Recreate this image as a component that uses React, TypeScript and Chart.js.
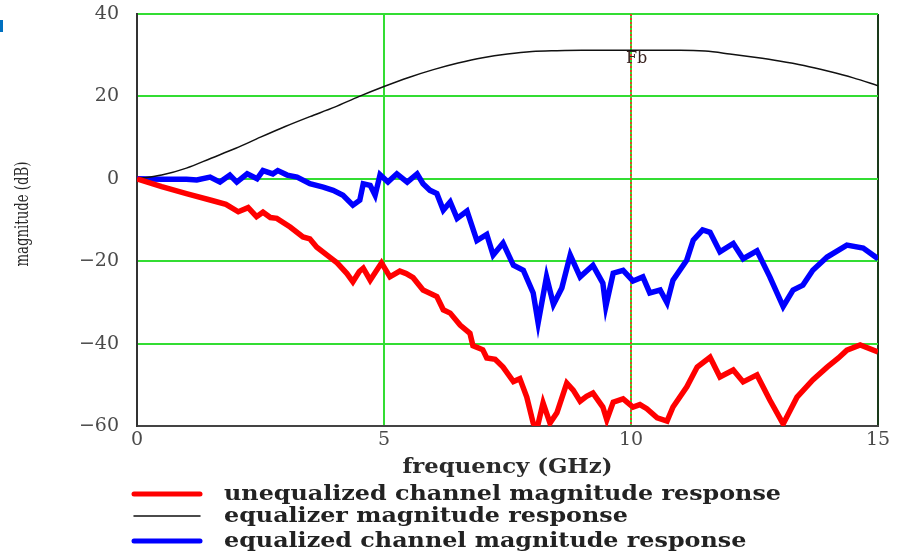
import React, { useEffect, useRef } from "react";
import { Chart, registerables } from "chart.js";

Chart.register(...registerables);

// ---- data ----
const xTicks = [0, 5, 10, 15];
const yTicks = [40, 20, 0, -20, -40, -60];
const fbFreq = 10;
const markerLabel = "Fb";
const xTitle = "frequency (GHz)";
const yTitle = "magnitude (dB)";
const seriesLabels = [
  "unequalized channel magnitude response",
  "equalizer magnitude response",
  "equalized channel magnitude response",
];

const equalizerFreq = [0, 0.5, 1, 1.5, 2, 2.5, 3, 3.5, 4, 4.5, 5, 5.5, 6, 6.5, 7, 7.5, 8, 8.5, 9, 9.5, 10, 10.5, 11, 11.5, 12, 12.5, 13, 13.5, 14, 14.5, 15];
const equalizerDb = [0, 0.9, 2.6, 5.0, 7.4, 10.1, 12.7, 15.1, 17.4, 20.0, 22.4, 24.6, 26.5, 28.1, 29.4, 30.3, 30.9, 31.1, 31.2, 31.2, 31.2, 31.2, 31.2, 31.0, 30.3, 29.5, 28.6, 27.5, 26.1, 24.5, 22.6];

const unequalizedFreq = [0, 0.5, 1.0, 1.5, 1.8, 2.05, 2.25, 2.42, 2.55, 2.7, 2.83, 3.1, 3.36, 3.5, 3.64, 3.9, 4.05, 4.25, 4.37, 4.5, 4.58, 4.72, 4.95, 5.12, 5.32, 5.45, 5.59, 5.79, 6.07, 6.2, 6.34, 6.54, 6.74, 6.8, 7.0, 7.08, 7.25, 7.41, 7.62, 7.75, 7.89, 8.02, 8.1, 8.22, 8.36, 8.5, 8.7, 8.83, 8.97, 9.1, 9.23, 9.43, 9.51, 9.64, 9.84, 10.04, 10.18, 10.32, 10.53, 10.73, 10.85, 11.13, 11.34, 11.6, 11.8, 12.07, 12.27, 12.55, 12.81, 13.08, 13.36, 13.68, 13.97, 14.2, 14.37, 14.64, 15];
const unequalizedDb = [0, -1.9, -3.6, -5.2, -6.2, -8.0, -7.0, -9.2, -8.1, -9.4, -9.6, -11.7, -14.1, -14.6, -16.6, -19.0, -20.4, -23.0, -25.0, -22.5, -21.7, -24.6, -20.4, -23.8, -22.4, -23.0, -24.0, -27.0, -28.6, -31.8, -32.6, -35.5, -37.5, -40.5, -41.5, -43.5, -43.8, -45.7, -49.2, -48.5, -53.0, -59.3, -60.5, -54.4, -59.3, -56.8, -49.6, -51.3, -54.0, -52.8, -52.0, -55.4, -58.5, -54.2, -53.4, -55.4, -54.8, -55.8, -58.0, -58.8, -55.4, -50.5, -45.7, -43.3, -48.1, -46.4, -49.3, -47.6, -53.7, -59.5, -53.0, -48.8, -45.7, -43.5, -41.6, -40.3, -42.0];

const equalizedFreq = [0, 0.5, 1.0, 1.21, 1.48, 1.68, 1.88, 2.02, 2.23, 2.43, 2.55, 2.75, 2.85, 3.04, 3.24, 3.5, 3.77, 3.97, 4.17, 4.37, 4.51, 4.58, 4.72, 4.82, 4.92, 5.08, 5.26, 5.47, 5.67, 5.79, 5.93, 6.07, 6.2, 6.34, 6.48, 6.68, 6.88, 7.08, 7.21, 7.41, 7.62, 7.82, 8.02, 8.12, 8.29, 8.43, 8.6, 8.77, 8.97, 9.23, 9.43, 9.49, 9.64, 9.84, 10.04, 10.24, 10.38, 10.59, 10.73, 10.85, 11.13, 11.26, 11.45, 11.6, 11.8, 12.07, 12.27, 12.55, 12.81, 13.08, 13.28, 13.48, 13.68, 13.97, 14.37, 14.7, 15];
const equalizedDb = [0, -0.1, -0.1, -0.3, 0.4, -0.8, 0.9, -0.8, 1.2, 0, 2.0, 1.2, 2.0, 0.9, 0.4, -1.2, -2.0, -2.8, -4.0, -6.4, -5.2, -1.2, -1.6, -4.0, 1.0, -0.8, 1.2, -0.8, 1.2, -1.2, -2.8, -3.6, -7.6, -5.6, -9.6, -7.8, -15.0, -13.5, -18.5, -15.6, -21.0, -22.2, -27.7, -35.0, -23.8, -30.5, -26.5, -18.5, -23.8, -21.0, -25.3, -31.0, -22.9, -22.2, -24.8, -23.8, -27.7, -27.0, -30.1, -24.6, -19.7, -14.9, -12.4, -13.0, -17.7, -15.7, -19.4, -17.5, -23.8, -31.0, -27.0, -25.8, -22.2, -19.0, -16.1, -16.8, -19.4];

const GREEN = "#33dd33";
const SERIF = "'DejaVu Serif', serif";

function drawScaledText(ctx: CanvasRenderingContext2D, text: string, cx: number, cy: number, targetW: number, align: "left" | "center") {
  const w = ctx.measureText(text).width;
  const sx = targetW / w;
  ctx.save();
  ctx.translate(cx, cy);
  ctx.scale(sx, 1);
  ctx.textAlign = align;
  ctx.textBaseline = "middle";
  ctx.fillText(text, 0, 0);
  ctx.restore();
}

const overlayPlugin = {
  id: "overlay",
  beforeDatasetsDraw(chart: any) {
    const { ctx, chartArea, scales } = chart;
    const px = scales.x.getPixelForValue(fbFreq);
    ctx.save();
    ctx.strokeStyle = "#e8402a";
    ctx.lineWidth = 2;
    ctx.setLineDash([2, 2]);
    ctx.beginPath();
    ctx.moveTo(px, chartArea.top);
    ctx.lineTo(px, chartArea.bottom);
    ctx.stroke();
    ctx.restore();
  },
  afterDraw(chart: any) {
    const { ctx, chartArea, scales } = chart;
    ctx.save();
    // Fb marker label
    ctx.fillStyle = "#3a2420";
    ctx.font = `16px ${SERIF}`;
    ctx.textAlign = "left";
    ctx.textBaseline = "alphabetic";
    ctx.fillText(markerLabel, scales.x.getPixelForValue(fbFreq) - 5, 63);

    // x axis title
    ctx.fillStyle = "#2a2a2a";
    ctx.font = `bold 20px ${SERIF}`;
    drawScaledText(ctx, xTitle, (chartArea.left + chartArea.right) / 2, 468, 210, "center");

    // y axis title
    ctx.save();
    ctx.translate(23, 214);
    ctx.rotate(-Math.PI / 2);
    ctx.font = `18px ${SERIF}`;
    drawScaledText(ctx, yTitle, 0, 0, 105, "center");
    ctx.restore();

    // legend
    const rowsY = [494, 516, 541];
    ctx.font = `bold 20px ${SERIF}`;
    const sx = 557 / ctx.measureText(seriesLabels[0]).width;
    chart.data.datasets.forEach((ds: any, i: number) => {
      const y = rowsY[i];
      ctx.strokeStyle = ds.borderColor;
      ctx.lineWidth = ds.legendLineWidth;
      ctx.setLineDash([]);
      ctx.lineCap = "round";
      ctx.beginPath();
      ctx.moveTo(134, y);
      ctx.lineTo(200, y);
      ctx.stroke();
      ctx.fillStyle = "#222";
      ctx.save();
      ctx.translate(224, y + 1);
      ctx.scale(sx, 1);
      ctx.textAlign = "left";
      ctx.textBaseline = "middle";
      ctx.fillText(ds.label, 0, 0);
      ctx.restore();
    });
    ctx.restore();
  },
};

const toPoints = (xs: number[], ys: number[]) => xs.map((x, i) => ({ x, y: ys[i] }));

export default function App() {
  const ref = useRef<HTMLCanvasElement | null>(null);
  useEffect(() => {
    if (!ref.current) return;
    const chart = new Chart(ref.current, {
      type: "line",
      data: {
        datasets: [
          {
            label: seriesLabels[0],
            data: toPoints(unequalizedFreq, unequalizedDb),
            borderColor: "#ff0000",
            borderWidth: 5.5,
            pointRadius: 0,
            tension: 0,
            clip: 0,
            legendLineWidth: 5,
          } as any,
          {
            label: seriesLabels[1],
            data: toPoints(equalizerFreq, equalizerDb),
            borderColor: "#111111",
            borderWidth: 1.5,
            pointRadius: 0,
            cubicInterpolationMode: "monotone",
            legendLineWidth: 1.5,
          } as any,
          {
            label: seriesLabels[2],
            data: toPoints(equalizedFreq, equalizedDb),
            borderColor: "#0000ff",
            borderWidth: 5.5,
            pointRadius: 0,
            tension: 0,
            clip: 0,
            legendLineWidth: 5,
          } as any,
        ],
      },
      options: {
        responsive: false,
        animation: false,
        devicePixelRatio: 1,
        layout: { padding: { top: 14, right: 27, left: 0, bottom: 0 } },
        plugins: { legend: { display: false }, tooltip: { enabled: false } },
        scales: {
          x: {
            type: "linear",
            min: 0,
            max: 15,
            afterBuildTicks: (s: any) => {
              s.ticks = xTicks.map((v) => ({ value: v }));
            },
            afterFit: (s: any) => {
              s.height = 131;
              s.paddingLeft = 0;
              s.paddingRight = 0;
            },
            ticks: {
              padding: 3,
              color: "#4a4a4a",
              font: { family: SERIF, size: 19 },
              maxRotation: 0,
            },
            grid: {
              drawTicks: false,
              lineWidth: 2,
              color: (c: any) => (c.tick && c.tick.value === 15 ? "#1a3a1a" : c.tick && c.tick.value === 0 ? "#333" : GREEN),
            },
            border: { display: true, color: "#444", width: 2 },
          },
          y: {
            type: "linear",
            min: -60,
            max: 40,
            afterBuildTicks: (s: any) => {
              s.ticks = yTicks.map((v) => ({ value: v }));
            },
            afterFit: (s: any) => {
              s.width = 137;
              s.paddingTop = 0;
              s.paddingBottom = 0;
            },
            ticks: {
              padding: 18,
              color: "#4a4a4a",
              font: { family: SERIF, size: 19 },
              callback: (v: any) => (v < 0 ? "\u2212" + Math.abs(v) : String(v)),
            },
            grid: {
              drawTicks: false,
              lineWidth: 2,
              color: (c: any) => (c.tick && c.tick.value === -60 ? "#444" : GREEN),
            },
            border: { display: true, color: "#333", width: 2 },
          },
        },
      },
      plugins: [overlayPlugin],
    });
    return () => chart.destroy();
  }, []);

  return (
    <div style={{ position: "fixed", left: 0, top: 0, width: 905, height: 557, background: "#fff" }}>
      <canvas ref={ref} width={905} height={557} style={{ width: 905, height: 557, display: "block" }} />
      <div style={{ position: "absolute", left: 0, top: 20, width: 3, height: 12, background: "#0070c0" }} />
    </div>
  );
}
